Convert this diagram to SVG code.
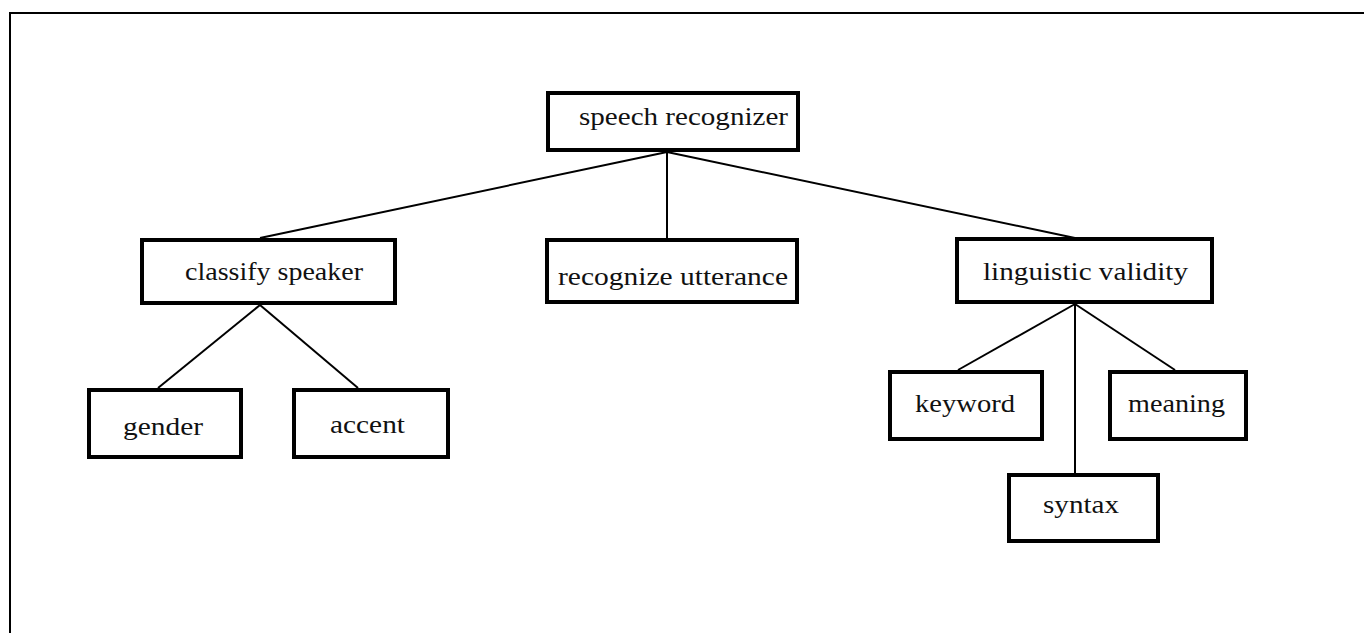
<svg xmlns="http://www.w3.org/2000/svg" width="1364" height="633" viewBox="0 0 1364 633">
<style>
.box{fill:#fff;stroke:#000;stroke-width:4}
.lbl{font-family:"Liberation Serif","Times New Roman",serif;font-size:26px;fill:#111}
.conn line{stroke:#000;stroke-width:2}
</style>
<rect x="0" y="0" width="1364" height="633" fill="#fff"/>
<rect x="10" y="13" width="1400" height="700" fill="none" stroke="#000" stroke-width="2"/>
<g class="conn" id="connectors">
<line x1="667" y1="152" x2="260" y2="238"/>
<line x1="667" y1="152" x2="667" y2="238"/>
<line x1="667" y1="152" x2="1075" y2="238"/>
<line x1="260" y1="305" x2="158" y2="388"/>
<line x1="260" y1="305" x2="358" y2="388"/>
<line x1="1075" y1="304" x2="958" y2="370"/>
<line x1="1075" y1="304" x2="1075" y2="473"/>
<line x1="1075" y1="304" x2="1175" y2="370"/>
</g>
<g id="n-speech"><rect class="box" x="548" y="93" width="250" height="57"/><text class="lbl" x="579" y="125" textLength="209" lengthAdjust="spacingAndGlyphs">speech recognizer</text></g>
<g id="n-classify"><rect class="box" x="142" y="240" width="253" height="63"/><text class="lbl" x="185" y="280" textLength="178" lengthAdjust="spacingAndGlyphs">classify speaker</text></g>
<g id="n-utterance"><rect class="box" x="547" y="240" width="250" height="62"/><text class="lbl" x="558" y="285" textLength="230" lengthAdjust="spacingAndGlyphs">recognize utterance</text></g>
<g id="n-linguistic"><rect class="box" x="957" y="239" width="255" height="63"/><text class="lbl" x="983" y="280" textLength="205" lengthAdjust="spacingAndGlyphs">linguistic validity</text></g>
<g id="n-gender"><rect class="box" x="89" y="390" width="152" height="67"/><text class="lbl" x="123" y="435" textLength="80" lengthAdjust="spacingAndGlyphs">gender</text></g>
<g id="n-accent"><rect class="box" x="294" y="390" width="154" height="67"/><text class="lbl" x="330" y="433" textLength="75" lengthAdjust="spacingAndGlyphs">accent</text></g>
<g id="n-keyword"><rect class="box" x="890" y="372" width="152" height="67"/><text class="lbl" x="915" y="412" textLength="100" lengthAdjust="spacingAndGlyphs">keyword</text></g>
<g id="n-meaning"><rect class="box" x="1110" y="372" width="136" height="67"/><text class="lbl" x="1128" y="412" textLength="97" lengthAdjust="spacingAndGlyphs">meaning</text></g>
<g id="n-syntax"><rect class="box" x="1009" y="475" width="149" height="66"/><text class="lbl" x="1043" y="513" textLength="76" lengthAdjust="spacingAndGlyphs">syntax</text></g>
</svg>
